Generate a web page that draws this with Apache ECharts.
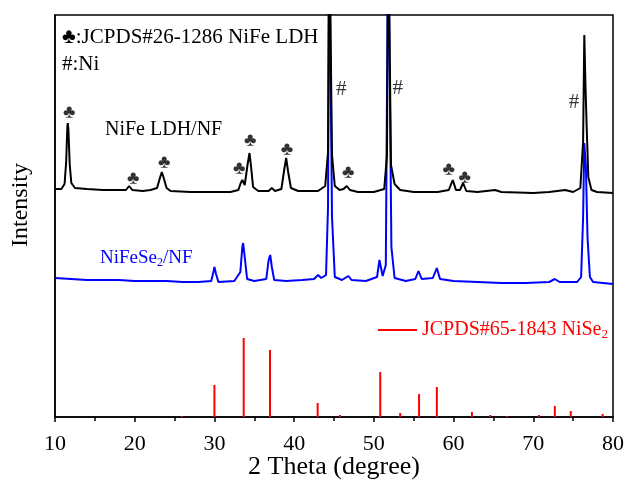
<!DOCTYPE html>
<html>
<head>
<meta charset="utf-8">
<script src="https://cdn.jsdelivr.net/npm/echarts@6/dist/echarts.min.js"></script>
<style>
  html, body { margin: 0; padding: 0; background: #fff; }
  #grafico { width: 627px; height: 484px; }
</style>
</head>
<body>
<div id="grafico"></div>
<script>
// Difratogramas (2θ, intensidade em u.a.)
const NIFE_LDH = [
  [10, 228], [10.8, 228], [11.2, 233], [11.4, 255], [11.55, 290], [11.6, 294], [11.68, 288], [11.85, 252],
  [12.05, 234], [12.5, 229], [14, 228], [16, 227], [18, 227], [18.9, 227], [19.3, 231], [19.7, 227],
  [21, 226], [22, 227], [22.8, 229], [23.2, 240], [23.4, 245], [23.6, 240], [24, 229], [24.5, 226],
  [27, 225], [30, 225], [32, 225], [33, 227], [33.3, 234], [33.5, 237], [33.8, 232], [34.15, 252],
  [34.4, 264], [34.6, 250], [34.85, 230], [35.5, 226], [36.8, 226], [37.2, 229], [37.6, 226], [38.4, 228],
  [38.75, 247], [39.0, 259], [39.25, 245], [39.6, 229], [40.5, 226], [43, 226], [43.9, 231], [44.25, 265],
  [44.4, 500], [44.6, 500], [44.75, 262], [45.1, 231], [45.7, 227], [46.2, 228], [46.6, 231], [47.0, 227],
  [48, 225], [50, 225], [51.3, 228], [51.65, 262], [51.8, 500], [52.0, 500], [52.15, 252], [52.6, 233],
  [53.3, 227], [55, 225], [58, 225], [59.4, 227], [59.9, 237], [60.3, 227], [60.8, 227], [61.2, 234],
  [61.6, 226], [63, 225], [65.2, 227], [66, 225], [70, 224], [72, 225], [74, 227], [75, 225],
  [75.9, 229], [76.25, 275], [76.4, 382], [76.55, 330], [76.7, 290], [76.9, 240], [77.3, 227], [78, 225],
  [80, 224],
];

const NIFESE2 = [
  [10, 139], [12, 138], [14, 137], [16, 137], [18, 137], [20, 136], [22, 136], [24, 136], [26, 135],
  [28, 135], [29.6, 136], [29.9, 146], [30.0, 150], [30.2, 143], [30.5, 135], [32.5, 136], [33.25, 145],
  [33.5, 170], [33.6, 174], [33.8, 160], [34.1, 138], [35, 136], [36.5, 138], [36.8, 157], [37.0, 162],
  [37.2, 150], [37.5, 137], [39, 136], [41, 137], [42.5, 138], [43.0, 142], [43.4, 139], [44.0, 142],
  [44.25, 210], [44.4, 500], [44.6, 500], [44.75, 200], [45.1, 140], [46, 137], [46.8, 141], [47.2, 137],
  [49, 136], [50.4, 140], [50.7, 157], [50.8, 158], [51.1, 141], [51.5, 152], [51.8, 500], [52.0, 500],
  [52.2, 170], [52.6, 139], [54, 136], [55.2, 138], [55.6, 146], [56, 138], [57.4, 139], [57.9, 149],
  [58.3, 138], [60, 136], [63, 135], [66, 134], [69, 134], [72, 135], [72.7, 138], [73.3, 135],
  [75.5, 135], [76.0, 140], [76.25, 200], [76.4, 274], [76.6, 250], [76.8, 180], [77.1, 140], [77.5, 135],
  [80, 133],
];

// linhas do padrão JCPDS#65-1843
const PADRAO_NISE2 = [
  [25.9, 1], [30.0, 32], [33.67, 79], [36.97, 67], [42.95, 14], [45.75, 2], [50.8, 45], [53.3, 4],
  [55.67, 23], [57.9, 30], [62.3, 5], [64.6, 2], [66.7, 1], [70.7, 2], [72.7, 11], [74.7, 6], [78.7, 3],
];

// marcadores ♣ (NiFe LDH) e # (Ni)
const PAUS = [
  [11.8, 304], [19.8, 238], [23.7, 254], [33.1, 248], [34.5, 276], [39.1, 267], [46.8, 244], [59.4, 247], [61.4, 239],
];
const NI = [[45.9, 328], [53.0, 329], [75.1, 315]];

const FONTE = '"Liberation Serif", "Times New Roman", serif';
const sub = { fontSize: 12, fontFamily: FONTE, padding: [9, 0, 0, 0] };

const g = echarts.init(document.getElementById("grafico"));
g.setOption({
  animation: false,
  textStyle: { fontFamily: FONTE },
  grid: {
    left: 55, right: 14, top: 15, bottom: 67, outerBoundsMode: "none", containLabel: false,
    show: true, borderColor: "#000", borderWidth: 1.5,
  },
  xAxis: {
    type: "value", min: 10, max: 80, interval: 10,
    name: "2 Theta (degree)", nameLocation: "middle", nameGap: 37, nameMoveOverlap: false,
    nameTextStyle: { fontSize: 26, color: "#000", fontFamily: FONTE },
    axisLine: { lineStyle: { color: "#000", width: 1.5 } },
    axisTick: { length: 5, lineStyle: { color: "#000", width: 1.5 } },
    minorTick: { show: true, splitNumber: 2, length: 4, lineStyle: { color: "#000", width: 1.5 } },
    axisLabel: { fontSize: 22, color: "#000", margin: 16, fontFamily: FONTE },
    splitLine: { show: false },
  },
  yAxis: {
    type: "value", min: 0, max: 402,
    name: "Intensity", nameLocation: "middle", nameGap: 22, nameMoveOverlap: false,
    nameTextStyle: { fontSize: 24, color: "#000", fontFamily: FONTE, padding: [0, 0, 0, 22] },
    axisLine: { show: true, lineStyle: { color: "#000", width: 1.5 } },
    axisTick: { show: false }, axisLabel: { show: false }, splitLine: { show: false },
  },
  legend: {
    data: [{ name: "JCPDS#65-1843 NiSe2", icon: "rect" }],
    left: 373, top: 315, itemWidth: 39, itemHeight: 2, selectedMode: false,
    formatter: () => "JCPDS#65-1843 NiSe{sub|2}",
    textStyle: { fontSize: 20, color: "#ff0000", fontFamily: FONTE, rich: { sub: { ...sub, fontSize: 13 } } },
  },
  graphic: [
    { type: "text", left: 62, top: 27, style: { text: "♣:JCPDS#26-1286 NiFe LDH", font: `21px ${FONTE}`, fill: "#000" } },
    { type: "text", left: 62, top: 54, style: { text: "#:Ni", font: `21px ${FONTE}`, fill: "#000" } },
    { type: "text", left: 105, top: 120, style: { text: "NiFe LDH/NF", font: `20px ${FONTE}`, fill: "#000" } },
    {
      type: "text", left: 100, top: 249,
      style: { text: "NiFeSe{sub|2}/NF", font: `19px ${FONTE}`, fill: "#0000ff", rich: { sub: { ...sub, fill: "#0000ff" } } },
    },
  ],
  series: [
    {
      name: "JCPDS#65-1843 NiSe2", type: "bar", data: PADRAO_NISE2, barWidth: 2,
      itemStyle: { color: "#ff0000" },
    },
    {
      name: "NiFeSe2/NF", type: "line", data: NIFESE2, showSymbol: false,
      lineStyle: { color: "#0000ff", width: 2 },
    },
    {
      name: "NiFe LDH/NF", type: "line", data: NIFE_LDH, showSymbol: false,
      lineStyle: { color: "#000", width: 2 },
    },
    {
      type: "scatter", data: PAUS, symbolSize: 0, silent: true,
      label: { show: true, position: "inside", formatter: "♣", fontSize: 19, color: "#000" },
    },
    {
      type: "scatter", data: NI, symbolSize: 0, silent: true,
      label: { show: true, position: "inside", formatter: "#", fontSize: 21, color: "#000", fontFamily: FONTE },
    },
  ],
});
</script>
</body>
</html>
